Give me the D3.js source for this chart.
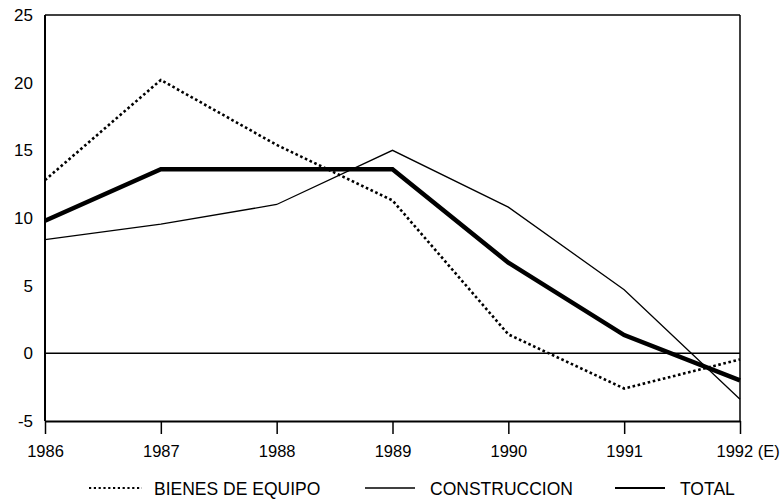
<!DOCTYPE html>
<html><head><meta charset="utf-8">
<script src="https://cdn.jsdelivr.net/npm/d3@7"></script>
<style>
html,body{margin:0;padding:0;background:#fff;}
text{font-family:"Liberation Sans",Arial,Helvetica,sans-serif;fill:#000;}
</style></head>
<body>
<script>
const years = ["1986","1987","1988","1989","1990","1991","1992"];
const xTickLabels = ["1986","1987","1988","1989","1990","1991","1992 (E)"];
const yTicks = [-5,0,5,10,15,20,25];
const bienesDeEquipo = [12.8, 20.2, 15.4, 11.3, 1.4, -2.6, -0.45];
const construccion = [8.4, 9.55, 11.0, 15.0, 10.8, 4.7, -3.4];
const total = [9.8, 13.6, 13.6, 13.6, 6.7, 1.35, -2.0];
const seriesNames = ["BIENES DE EQUIPO","CONSTRUCCION","TOTAL"];

(function(){
const W = 780, H = 503;
const svg = d3.select("body").append("svg").attr("width", W).attr("height", H);
const mLeft = 45, mRight = 740, mTop = 15, mBottom = 421;

const x = d3.scalePoint().domain(years).range([mLeft, mRight]);
const y = d3.scaleLinear().domain([-5, 25]).range([mBottom, mTop]);

// frame
svg.append("line").attr("x1", mLeft).attr("x2", mRight).attr("y1", mTop).attr("y2", mTop)
  .attr("stroke", "#000").attr("stroke-width", 1.5);
svg.append("line").attr("x1", mRight).attr("x2", mRight).attr("y1", mTop).attr("y2", mBottom)
  .attr("stroke", "#000").attr("stroke-width", 1.5);
svg.append("line").attr("x1", mLeft).attr("x2", mLeft).attr("y1", mTop).attr("y2", mBottom)
  .attr("stroke", "#000").attr("stroke-width", 2);

// x axis
const xAxis = svg.append("g").attr("transform", `translate(0,${mBottom})`)
  .call(d3.axisBottom(x).tickSize(13).tickSizeOuter(0).tickFormat((d, i) => xTickLabels[i]));
xAxis.select(".domain").attr("stroke-width", 1.8);
xAxis.selectAll(".tick line").attr("stroke-width", 1.5);
xAxis.selectAll(".tick text")
  .attr("font-size", 16.5).attr("font-family", "Liberation Sans, Arial, sans-serif")
  .attr("y", 36).attr("dy", 0)
  .attr("fill", "#000");
xAxis.selectAll(".tick").filter((d, i) => i === years.length - 1).select("text")
  .attr("text-anchor", "start").attr("x", -24);

// y axis labels
const yAxis = svg.append("g").attr("transform", `translate(${mLeft},0)`)
  .call(d3.axisLeft(y).tickValues(yTicks).tickSize(0).tickPadding(12).tickFormat(d => String(d)));
yAxis.select(".domain").remove();
yAxis.selectAll(".tick text").attr("font-size", 17)
  .attr("font-family", "Liberation Sans, Arial, sans-serif").attr("fill", "#000");

// zero line
svg.append("line").attr("x1", mLeft).attr("x2", mRight).attr("y1", y(0)).attr("y2", y(0))
  .attr("stroke", "#000").attr("stroke-width", 1.5);

const line = d3.line().x((d, i) => x(years[i])).y(d => y(d));

svg.append("path").datum(construccion).attr("d", line)
  .attr("fill", "none").attr("stroke", "#000").attr("stroke-width", 1.3);
svg.append("path").datum(bienesDeEquipo).attr("d", line)
  .attr("fill", "none").attr("stroke", "#000").attr("stroke-width", 2.6)
  .attr("stroke-dasharray", "2.6 2.6");
svg.append("path").datum(total).attr("d", line)
  .attr("fill", "none").attr("stroke", "#000").attr("stroke-width", 4.5)
  .attr("stroke-linejoin", "miter");

// legend
const legendY = 488;
const legendItems = [
  {name: seriesNames[0], x0: 89, x1: 142, tx: 154, w: 2.2, dash: "2.2 2.6"},
  {name: seriesNames[1], x0: 365, x1: 415, tx: 430, w: 1.3, dash: null},
  {name: seriesNames[2], x0: 615, x1: 665, tx: 680, w: 2.2, dash: null}
];
const lg = svg.append("g");
legendItems.forEach(it => {
  const l = lg.append("line").attr("x1", it.x0).attr("x2", it.x1)
    .attr("y1", legendY).attr("y2", legendY)
    .attr("stroke", "#000").attr("stroke-width", it.w);
  if (it.dash) l.attr("stroke-dasharray", it.dash);
  lg.append("text").attr("x", it.tx).attr("y", legendY + 6.5)
    .attr("font-size", 17.5).text(it.name);
});
})();
</script>
</body></html>
